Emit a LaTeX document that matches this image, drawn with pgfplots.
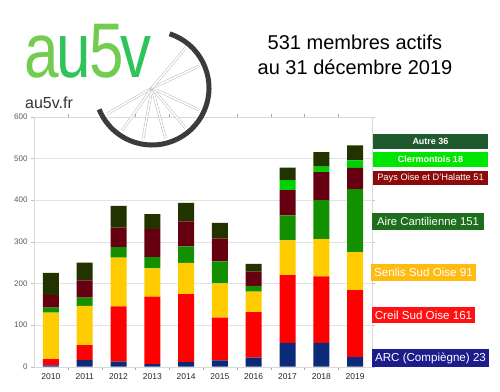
\documentclass[border=0pt]{standalone}
\usepackage{pgfplots}
\pgfplotsset{compat=1.18}
\usepackage{fontspec}
\setmainfont{Liberation Sans}
\definecolor{cARC}{HTML}{0B2A78}
\definecolor{cCreil}{HTML}{FF0000}
\definecolor{cSenlis}{HTML}{FFCC00}
\definecolor{cAire}{HTML}{139000}
\definecolor{cPays}{HTML}{660010}
\definecolor{cClerm}{HTML}{00D000}
\definecolor{cAutre}{HTML}{223300}
\definecolor{bAutre}{HTML}{1F5A2F}
\definecolor{bClerm}{HTML}{00E600}
\definecolor{bPays}{HTML}{8C0A0A}
\definecolor{bAire}{HTML}{1E6E1E}
\definecolor{bSenlis}{HTML}{FFBB11}
\definecolor{bCreil}{HTML}{FF1111}
\definecolor{bARC}{HTML}{1C1C8C}
\definecolor{lg1}{HTML}{72CC50}
\definecolor{lg2}{HTML}{2EC45A}
\definecolor{wheel}{HTML}{3D3A3A}
\begin{document}
\begin{tikzpicture}[x=1pt,y=1pt]
\path (0,0) rectangle (500,391);
\begin{axis}[
  at={(34pt,24.3pt)}, anchor=south west,
  scale only axis, width=338pt, height=250pt,
  xmin=-0.5, xmax=9.5, ymin=0, ymax=600,
  ybar stacked, bar width=16pt,
  xtick={0,...,9},
  xticklabels={2010,2011,2012,2013,2014,2015,2016,2017,2018,2019},
  major x tick style={draw=none},
  minor xtick={0.5,1.5,...,8.5},
  minor x tick style={gray!70},
  minor tick length=3pt,
  ytick={0,100,...,600},
  y tick style={gray!50},
  major tick length=3pt,
  tick align=outside,
  ymajorgrids, grid style={gray!22},
  axis line style={gray!30},
  /pgf/number format/assume math mode=true,
  xticklabel style={font=\fontsize{8.5}{10}\selectfont, text=black!85},
  yticklabel style={font=\fontsize{8}{10}\selectfont, text=black!65},
  every axis plot/.append style={draw=none},
]
\addplot[fill=cARC] coordinates {(0,3)(1,16)(2,12)(3,6)(4,11)(5,15)(6,22)(7,57)(8,57)(9,23)};
\addplot[fill=cCreil] coordinates {(0,15)(1,36)(2,133)(3,162)(4,163)(5,103)(6,109)(7,163)(8,160)(9,161)};
\addplot[fill=cSenlis] coordinates {(0,112)(1,94)(2,117)(3,68)(4,75)(5,82)(6,49)(7,83)(8,89)(9,91)};
\addplot[fill=cAire] coordinates {(0,12)(1,20)(2,25)(3,27)(4,40)(5,53)(6,14)(7,60)(8,94)(9,151)};
\addplot[fill=cPays] coordinates {(0,30)(1,41)(2,47)(3,67)(4,60)(5,55)(6,34)(7,61)(8,67)(9,51)};
\addplot[fill=cClerm] coordinates {(0,0)(1,0)(2,0)(3,0)(4,0)(5,0)(6,0)(7,24)(8,13)(9,18)};
\addplot[fill=cAutre] coordinates {(0,53)(1,43)(2,52)(3,36)(4,44)(5,37)(6,19)(7,30)(8,35)(9,36)};
\draw[gray!70] (axis cs:-0.5,0) -- (axis cs:9.5,0);
\end{axis}
% logo
\foreach \a in {-150,-125,-100,-75,-50,-25,0,25,50} {
  \draw[gray!55, line width=0.5pt, double=white, double distance=1.6pt] (152,303) -- ++(\a:52);
}
\draw[wheel, line width=5pt] (152,303) ++(72:57) arc[start angle=72, end angle=-158, radius=57];
\node[anchor=base west, inner sep=0, font=\fontsize{62}{62}\selectfont] at (24,313)
  {\raisebox{0pt}[\height][0pt]{\scalebox{1}[1.25]{\textcolor{lg1}{a}\kern-2pt\textcolor{lg2}{u}\kern-2pt\textcolor{lg1}{5}\kern-3pt\textcolor{lg2}{v}}}};
\node[anchor=base west, inner sep=0, font=\fontsize{16}{16}\selectfont, text=black!80] at (25,282) {au5v.fr};
% title
\node[anchor=base, font=\fontsize{20}{24}\selectfont] at (355,341) {531 membres actifs};
\node[anchor=base, font=\fontsize{20}{24}\selectfont] at (355,316) {au 31 décembre 2019};
% legend boxes
\node[fill=bAutre, text=white, minimum width=115pt, minimum height=15pt, inner sep=0, font=\fontsize{9}{10}\selectfont\bfseries] at (430.5,249.5) {Autre 36};
\node[fill=bClerm, text=white, minimum width=115pt, minimum height=15pt, inner sep=0, font=\fontsize{9}{10}\selectfont\bfseries] at (430.5,231.5) {Clermontois 18};
\node[fill=bPays, text=white, minimum width=115pt, minimum height=14pt, inner sep=0, font=\fontsize{9.3}{10}\selectfont] at (430.5,213) {Pays Oise et D'Halatte 51};
\node[fill=bAire, text=white, minimum width=112pt, minimum height=17pt, inner sep=0, font=\fontsize{11.3}{13}\selectfont] at (428,169.5) {Aire Cantilienne 151};
\node[fill=bSenlis, text=white, minimum width=105pt, minimum height=17pt, inner sep=0, font=\fontsize{11.6}{13}\selectfont] at (423.5,118.5) {Senlis Sud Oise 91};
\node[fill=bCreil, text=white, minimum width=103pt, minimum height=16pt, inner sep=0, font=\fontsize{11.6}{13}\selectfont] at (423.5,76) {Creil Sud Oise 161};
\node[fill=bARC, text=white, minimum width=117pt, minimum height=18pt, inner sep=0, font=\fontsize{11.6}{13}\selectfont] at (430.5,33) {ARC (Compiègne) 23};
\end{tikzpicture}
\end{document}
